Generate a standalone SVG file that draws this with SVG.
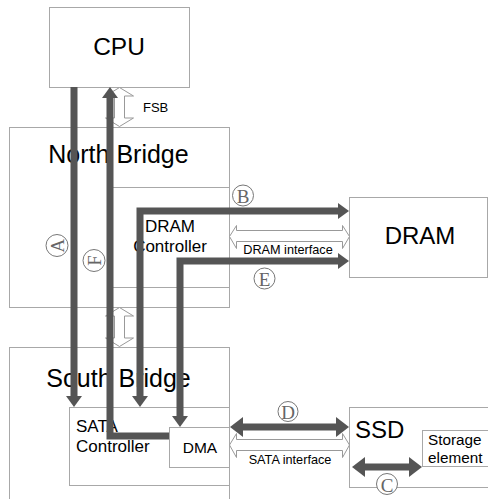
<svg xmlns="http://www.w3.org/2000/svg" width="488" height="499" viewBox="0 0 488 499">
<defs>
<style>
.box{fill:#fff;stroke:#a8a8a8;stroke-width:1}
.boxn{fill:none;stroke:#a8a8a8;stroke-width:1}
.t{font-family:"Liberation Sans",Arial,sans-serif;fill:#000}
.bus{fill:none;stroke:#555;stroke-width:7}
.hollow{fill:#fff;stroke:#999;stroke-width:1}
.lab circle{fill:#fff;stroke:#777;stroke-width:1}
.lab text{font-family:"Liberation Serif","Times New Roman",serif;font-size:19px;fill:#666;text-anchor:middle;dominant-baseline:central}
</style>
<marker id="ah" viewBox="0 0 11 16" refX="0" refY="8" markerWidth="11" markerHeight="16" markerUnits="userSpaceOnUse" orient="auto-start-reverse">
<path d="M0,0 L11,8 L0,16 Z" fill="#555"/>
</marker>
<marker id="ah2" viewBox="0 0 13 20" refX="0" refY="10" markerWidth="13" markerHeight="20" markerUnits="userSpaceOnUse" orient="auto-start-reverse">
<path d="M0,0 L13,10 L0,20 Z" fill="#555"/>
</marker>
</defs>

<g id="north-bridge">
<rect class="box" x="9.5" y="127.5" width="220" height="180"/>
<text class="t" x="118.5" y="163" font-size="25" text-anchor="middle">North Bridge</text>
</g>
<g id="dram-controller">
<rect class="boxn" x="109.5" y="187.5" width="120" height="100"/>
<text class="t" x="170" y="232" font-size="17" text-anchor="middle">DRAM</text>
<text class="t" x="170" y="252" font-size="17" text-anchor="middle">Controller</text>
</g>
<g id="south-bridge">
<rect class="box" x="9.5" y="347.5" width="220" height="170"/>
<text class="t" x="118.5" y="387" font-size="25" text-anchor="middle">South Bridge</text>
</g>
<g id="sata-controller">
<rect class="boxn" x="69.5" y="407.5" width="160" height="78"/>
<text class="t" x="76" y="432" font-size="17">SATA</text>
<text class="t" x="76" y="452" font-size="17">Controller</text>
</g>
<g id="dma">
<rect class="box" x="169.5" y="427.5" width="60" height="40"/>
<text class="t" x="200" y="453" font-size="15.5" text-anchor="middle">DMA</text>
</g>
<g id="cpu">
<rect class="box" x="49.5" y="7.5" width="140" height="80"/>
<text class="t" x="119" y="55" font-size="24.5" text-anchor="middle">CPU</text>
</g>
<g id="dram">
<rect class="box" x="349.5" y="197.5" width="138" height="80"/>
<text class="t" x="420" y="244" font-size="24" text-anchor="middle">DRAM</text>
</g>
<g id="ssd">
<rect class="box" x="349.5" y="407.5" width="145" height="80"/>
<text class="t" x="355" y="438" font-size="24">SSD</text>
</g>
<g id="storage-element">
<rect class="box" x="422.5" y="430.5" width="70" height="36"/>
<text class="t" x="428" y="445" font-size="15.3">Storage</text>
<text class="t" x="428" y="463" font-size="15.3">element</text>
</g>

<g id="connectors">
<polygon class="hollow" points="119.5,87.5 133.5,96 124.5,96 124.5,118 133.5,118 119.5,126.5 105.5,118 114.5,118 114.5,96 105.5,96"/>
<text class="t" x="143" y="112" font-size="13">FSB</text>
<polygon class="hollow" points="119.5,307.5 133.5,316 124.5,316 124.5,338 133.5,338 119.5,346.5 105.5,338 114.5,338 114.5,316 105.5,316"/>
<polygon class="hollow" points="229.5,236.5 236.5,225.5 236.5,230.5 342.5,230.5 342.5,225.5 349.5,236.5 342.5,248.5 342.5,241.5 236.5,241.5 236.5,248.5"/>
<text class="t" x="288" y="254" font-size="12.7" text-anchor="middle">DRAM interface</text>
<polygon class="hollow" points="229.5,445 236.5,433.5 236.5,439.5 342.5,439.5 342.5,433.5 349.5,445 342.5,457.5 342.5,450.5 236.5,450.5 236.5,457.5"/>
<text class="t" x="290" y="464" font-size="12.7" text-anchor="middle">SATA interface</text>

<path id="busA" class="bus" d="M74,87 V396" marker-end="url(#ah)"/>
<path id="busF" class="bus" d="M169,436 H110 V98" marker-end="url(#ah)"/>
<path id="busB" class="bus" d="M140,396 V211 H338" marker-start="url(#ah)" marker-end="url(#ah)"/>
<path id="busE" class="bus" d="M180,416 V261 H338" marker-start="url(#ah)" marker-end="url(#ah)"/>
<path id="busD" class="bus" d="M243,427 H336" marker-start="url(#ah2)" marker-end="url(#ah2)"/>
<path id="busC" class="bus" d="M365,467 H409" marker-start="url(#ah2)" marker-end="url(#ah2)"/>

<g class="lab"><circle cx="57" cy="245.5" r="11"/><text x="57" y="245.5" transform="rotate(-90 57 245.5)">A</text></g>
<g class="lab"><circle cx="94" cy="260.5" r="11"/><text x="94" y="260.5" transform="rotate(-90 94 260.5)">F</text></g>
<g class="lab"><circle cx="243" cy="195.5" r="10.5"/><text x="243" y="196.5">B</text></g>
<g class="lab"><circle cx="264.5" cy="278.5" r="10.5"/><text x="264.5" y="279.5">E</text></g>
<g class="lab"><circle cx="288" cy="411.5" r="10"/><text x="288" y="412.5">D</text></g>
<g class="lab"><circle cx="387" cy="484" r="10.5"/><text x="387" y="485">C</text></g>
</g>
</svg>
